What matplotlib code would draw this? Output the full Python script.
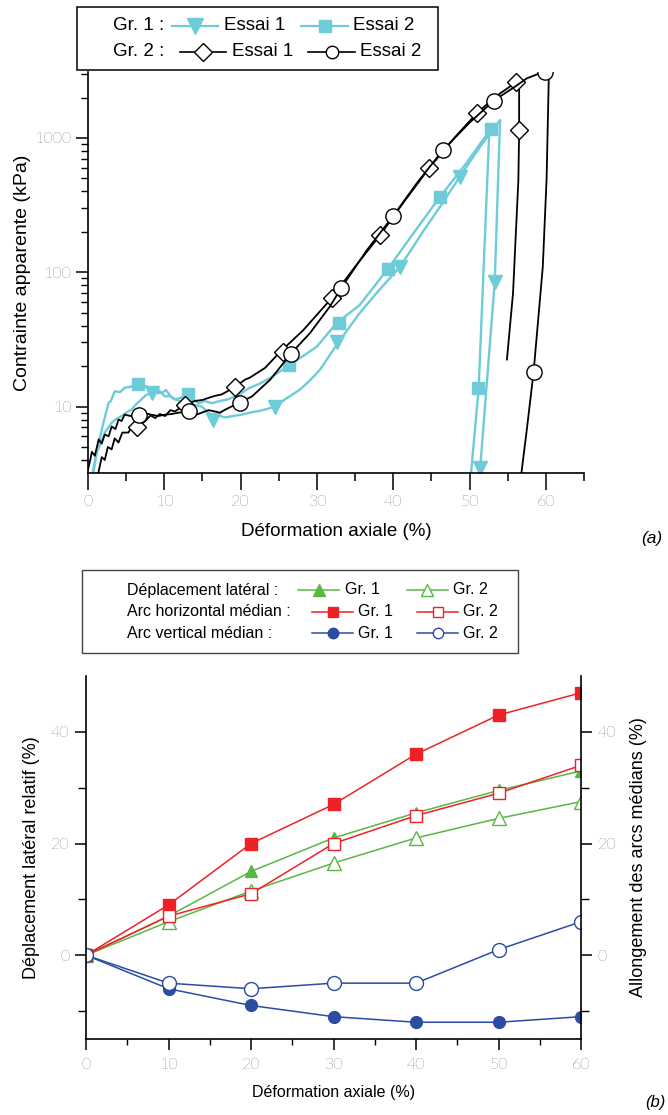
import matplotlib
matplotlib.use('Agg')
import matplotlib.pyplot as plt
from matplotlib.lines import Line2D
from matplotlib.patches import Rectangle
from matplotlib.ticker import FixedLocator, NullFormatter, FixedFormatter

W, H = 668, 1115
cyan = '#6ECBD8'
green = '#5BB645'
red = '#EE2226'
blue = '#2A4CA2'

# ---- (a) contrainte vs deformation ----
# Gr. 1, Essai 1 (triangles)
g1e1_x = [0.6, 1.1, 1.6, 2.2, 2.6, 3.1, 3.6, 4.4, 5.0, 5.7, 6.3, 7.0, 7.6, 8.5, 9.7, 10.2, 11.0, 12.0, 12.7,
          14.0, 14.9, 15.8, 16.4, 17.0, 18.0, 19.0, 20.1, 21.2, 22.5, 23.2, 24.5, 26.0, 27.8, 29.0, 30.4,
          32.6, 35.6, 38.0, 40.9, 44.0, 46.5, 48.7, 51.5, 54.0, 53.3, 51.4, 51.3]
g1e1_y = [3.2, 4.5, 5.2, 6.4, 6.9, 7.6, 8.0, 8.5, 9.0, 9.5, 10.4, 11.3, 12.2, 12.7, 12.6, 13.3, 11.6, 11.0, 10.6,
          10.3, 10.0, 9.0, 8.0, 8.6, 8.3, 8.5, 8.7, 9.0, 9.3, 9.5, 10.0, 11.5, 13.4, 15.5, 18.8,
          28.9, 49.7, 72, 110, 205, 330, 513, 880, 1360, 85, 3.5, 3.0]
g1e1_mx = [8.4, 16.4, 24.5, 32.6, 40.9, 48.7, 53.3, 51.4]
g1e1_my = [12.7, 8.0, 10.0, 30.0, 110, 513, 85, 3.5]

# Gr. 1, Essai 2 (carres)
g1e2_x = [0.7, 1.1, 1.6, 2.0, 2.7, 3.0, 3.5, 4.2, 4.8, 5.5, 6.4, 7.0, 7.7, 8.2, 8.8, 9.3, 10.1, 10.8, 11.4,
          12.2, 12.9, 13.6, 14.5, 15.3, 16.2, 17.3, 18.3, 19.5, 21.2, 22.5, 24.0, 26.5, 28.3, 30.0,
          32.6, 35.6, 39.3, 42.5, 46.1, 49.5, 52.8, 52.6, 51.2, 50.2]
g1e2_y = [3.2, 4.4, 6.0, 7.5, 10.7, 11.0, 13.0, 12.8, 13.8, 14.0, 14.6, 14.0, 14.2, 13.0, 12.7, 13.2, 11.9, 12.0, 11.3,
          11.6, 12.5, 11.5, 10.6, 11.0, 10.6, 11.0, 11.3, 12.0, 13.8, 14.8, 16.5, 20.5, 24.0, 28.0,
          42, 57, 106, 190, 363, 640, 1170, 1170, 13.8, 3.2]
g1e2_mx = [6.6, 13.1, 26.4, 32.9, 39.3, 46.1, 52.8, 51.1]
g1e2_my = [14.6, 12.3, 20.5, 42, 106, 363, 1170, 13.8]

# Gr. 2, Essai 1 (losanges)
g2e1_x = [1.35, 1.8, 2.2, 2.6, 3.1, 3.5, 4.0, 4.5, 5.3, 5.8, 6.4, 7.0, 7.5, 8.2, 8.8, 9.4, 10.1, 10.8, 11.4,
          12.7, 14.0, 15.0, 15.8, 16.6, 17.5, 19.2, 20.6, 21.2, 23.2, 25.2, 28.2, 31.7, 35.0, 38.3, 41.5,
          44.7, 48.0, 51.0, 53.5, 56.1, 56.5, 56.5, 56.4, 55.7, 54.9]
g2e1_y = [3.2, 4.2, 4.0, 5.0, 4.8, 5.8, 5.4, 6.4, 6.4, 7.2, 7.0, 7.4, 7.8, 8.6, 8.2, 8.8, 8.5, 9.4, 9.2,
          10.3, 11.0, 11.2, 11.6, 12.0, 12.3, 13.9, 15.9, 16.4, 19.4, 25.6, 37, 62, 110, 190, 340,
          597, 1000, 1540, 2050, 2600, 2300, 1140, 487, 70, 22.4]
g2e1_mx = [6.4, 12.7, 19.2, 25.5, 32.0, 38.3, 44.7, 51.0, 56.1, 56.5]
g2e1_my = [7.0, 10.3, 13.9, 25.6, 64.6, 190, 597, 1540, 2600, 1140]

# Gr. 2, Essai 2 (cercles)
g2e2_x = [0.0, 0.3, 0.5, 0.9, 1.4, 1.8, 2.2, 2.7, 3.1, 3.6, 4.0, 4.4, 4.8, 5.6, 6.7, 7.5, 8.3, 9.2, 10.1,
          11.0, 11.8, 13.3, 14.2, 14.9, 15.8, 16.6, 17.3, 18.0, 18.8, 19.9, 21.5, 23.9, 26.6, 29.1,
          31.7, 33.2, 36.5, 40.0, 43.2, 46.5, 50.0, 53.2, 56.0, 57.5, 59.0, 60.0, 60.4, 60.1, 59.6,
          59.3, 58.4, 57.5, 56.8]
g2e2_y = [3.4, 4.0, 4.6, 4.3, 5.7, 5.3, 6.2, 6.0, 7.1, 6.8, 8.0, 7.8, 8.7, 8.5, 8.6, 8.9, 8.7, 8.5, 8.7,
          8.8, 9.0, 9.2, 8.7, 9.0, 9.4, 9.2, 9.0, 9.5, 10.0, 10.7, 11.9, 15.9, 24.8, 35.3,
          55.6, 76.5, 145, 263, 470, 810, 1300, 1900, 2420, 2780, 3000, 3080, 3080, 500, 110,
          70, 18.2, 6.7, 3.2]
g2e2_mx = [6.7, 13.3, 19.9, 26.6, 33.2, 40.0, 46.5, 53.2, 59.9, 58.4]
g2e2_my = [8.6, 9.2, 10.7, 24.8, 76.5, 263, 810, 1900, 3100, 18.2]

# ---- (b) deplacements / allongements ----
def_axiale = [0, 10, 20, 30, 40, 50, 60]
lat_gr1 = [0, 7, 15, 21, 25.5, 29.5, 33]
lat_gr2 = [0, 6, 11.5, 16.5, 21, 24.5, 27.5]
horiz_gr1 = [0, 9, 20, 27, 36, 43, 47]
horiz_gr2 = [0, 7, 11, 20, 25, 29, 34]
vert_gr1 = [0, -6, -9, -11, -12, -12, -11]
vert_gr2 = [0, -5, -6, -5, -5, 1, 6]

plt.rcParams['font.family'] = ['Liberation Sans', 'DejaVu Sans']
tickfont = {'family': ['Lato', 'DejaVu Sans'], 'weight': 'light', 'size': 11.5}

fig = plt.figure(figsize=(W / 100, H / 100), dpi=100)


def fx(px):
    return px / W


def fy(py):
    return 1 - py / H


# axes (a)
ax1 = fig.add_axes([fx(88), fy(473), fx(584) - fx(88), fy(72) - fy(473)])
ax1.set_yscale('log')
ax1.plot(g1e1_x, g1e1_y, color=cyan, lw=1.7)
ax1.plot(g1e1_mx, g1e1_my, 'v', color=cyan, ms=10.5, mec=cyan)
ax1.plot(g1e2_x, g1e2_y, color=cyan, lw=1.7)
ax1.plot(g1e2_mx, g1e2_my, 's', color=cyan, ms=8.5, mec=cyan)
ax1.plot(g2e1_x, g2e1_y, color='black', lw=1.3)
ax1.plot(g2e1_mx, g2e1_my, 'D', color='black', mfc='white', ms=9.5, mew=1)
ax1.plot(g2e2_x, g2e2_y, color='black', lw=1.3)
ax1.plot(g2e2_mx, g2e2_my, 'o', color='black', mfc='white', ms=11, mew=1)
ax1.set_xlim(0, 65)
ax1.set_ylim(3.2, 3100)
ax1.spines['top'].set_visible(False)
ax1.spines['right'].set_visible(False)
ax1.spines['left'].set_linewidth(1.2)
ax1.spines['bottom'].set_linewidth(1.2)
ax1.xaxis.set_major_locator(FixedLocator([0, 10, 20, 30, 40, 50, 60]))
ax1.xaxis.set_minor_locator(FixedLocator([5, 15, 25, 35, 45, 55, 65]))
ax1.yaxis.set_major_locator(FixedLocator([10, 100, 1000]))
ax1.yaxis.set_major_formatter(FixedFormatter(['10', '100', '1000']))
ax1.yaxis.set_minor_locator(FixedLocator([4, 5, 6, 7, 8, 9, 20, 30, 40, 50, 60, 70, 80, 90,
                                          200, 300, 400, 500, 600, 700, 800, 900, 2000, 3000]))
ax1.yaxis.set_minor_formatter(NullFormatter())
ax1.tick_params(axis='x', which='major', direction='out', length=12, width=1.1, pad=4)
ax1.tick_params(axis='x', which='minor', direction='out', length=6, width=1.1)
ax1.tick_params(axis='y', which='major', direction='out', length=9, width=1.1, pad=3)
ax1.tick_params(axis='y', which='minor', direction='out', length=5, width=1.0)
for lab in ax1.get_xticklabels() + ax1.get_yticklabels():
    lab.set_fontproperties(tickfont)
    lab.set_color('#111111')
ax1.set_ylabel('Contrainte apparente (kPa)', fontsize=14, labelpad=2)
fig.text(fx(336), fy(532), 'Déformation axiale (%)', fontsize=13.5, ha='center', va='center')
fig.text(fx(652), fy(538), '(a)', fontsize=12.5, style='italic', ha='center', va='center')

# legend (a)
fig.patches.append(Rectangle((fx(77), fy(70)), fx(438) - fx(77), fy(7) - fy(70),
                             transform=fig.transFigure, fill=True, fc='white', ec='black', lw=1.1))
leg_a = [
    (26, 'Gr. 1 :', 113, [(172, 218, 'v', cyan, cyan, 11, 1.6, 224, 'Essai 1'),
                          (301, 348, 's', cyan, cyan, 8.5, 1.6, 353, 'Essai 2')]),
    (52, 'Gr. 2 :', 113, [(180, 226, 'D', 'white', 'black', 9, 1.2, 232, 'Essai 1'),
                          (308, 355, 'o', 'white', 'black', 9, 1.2, 360, 'Essai 2')]),
]
for py, head, hx, items in leg_a:
    fig.text(fx(hx), fy(py), head, fontsize=13.5, ha='left', va='center')
    for x0, x1, mk, mfc, col, ms, lw, tx, lab in items:
        fig.lines.append(Line2D([fx(x0), fx(x1)], [fy(py), fy(py)], transform=fig.transFigure,
                                color=col, lw=lw))
        fig.lines.append(Line2D([fx((x0 + x1) / 2)], [fy(py)], transform=fig.transFigure,
                                marker=mk, color=col, mfc=mfc, mec=col, ms=ms, lw=0))
        fig.text(fx(tx), fy(py), lab, fontsize=13.5, ha='left', va='center')

# axes (b)
ax2 = fig.add_axes([fx(86), fy(1039), fx(581) - fx(86), fy(676) - fy(1039)])
ax2.plot(def_axiale, lat_gr1, '-^', color=green, lw=1.1, ms=9)
ax2.plot(def_axiale, lat_gr2, '-^', color=green, mfc='white', lw=1.1, ms=10, mew=1)
ax2.plot(def_axiale, horiz_gr1, '-s', color=red, lw=1.1, ms=8)
ax2.plot(def_axiale, horiz_gr2, '-s', color=red, mfc='white', lw=1.1, ms=8.5, mew=1)
ax2.plot(def_axiale, vert_gr1, '-o', color=blue, lw=1.1, ms=8.5)
ax2.plot(def_axiale, vert_gr2, '-o', color=blue, mfc='white', lw=1.1, ms=10, mew=1)
ax2.set_xlim(0, 60)
ax2.set_ylim(-15, 50)
ax2.spines['top'].set_visible(False)
ax2.spines['right'].set_visible(False)
for s in ('left', 'bottom'):
    ax2.spines[s].set_linewidth(1.2)
ax2.xaxis.set_major_locator(FixedLocator([0, 10, 20, 30, 40, 50, 60]))
ax2.xaxis.set_minor_locator(FixedLocator([5, 15, 25, 35, 45, 55]))
ax2.yaxis.set_major_locator(FixedLocator([0, 20, 40]))
ax2.yaxis.set_minor_locator(FixedLocator([-10, 10, 30]))
ax2.tick_params(axis='x', which='major', direction='out', length=8, width=1.1, pad=6)
ax2.tick_params(axis='x', which='minor', direction='out', length=4, width=1.0)
ax2.tick_params(axis='y', which='major', direction='out', length=8, width=1.1, pad=4)
ax2.tick_params(axis='y', which='minor', direction='out', length=6, width=1.0)
for lab in ax2.get_xticklabels() + ax2.get_yticklabels():
    lab.set_fontproperties(tickfont)
    lab.set_color('#111111')
ax2.set_ylabel('Déplacement latéral relatif (%)', fontsize=13, labelpad=8)

ax3 = ax2.twinx()
ax3.set_ylim(-15, 50)
for s in ('top', 'left', 'bottom'):
    ax3.spines[s].set_visible(False)
ax3.spines['right'].set_linewidth(1.2)
ax3.yaxis.set_major_locator(FixedLocator([0, 20, 40]))
ax3.yaxis.set_minor_locator(FixedLocator([-10, 10, 30]))
ax3.tick_params(axis='y', which='major', direction='out', length=8, width=1.1, pad=4)
ax3.tick_params(axis='y', which='minor', direction='out', length=6, width=1.0)
for lab in ax3.get_yticklabels():
    lab.set_fontproperties(tickfont)
    lab.set_color('#111111')
ax3.set_ylabel('Allongement des arcs médians (%)', fontsize=13, labelpad=10)

fig.text(fx(334), fy(1092), 'Déformation axiale (%)', fontsize=11.5, ha='center', va='center')
fig.text(fx(655), fy(1103), '(b)', fontsize=12, style='italic', ha='center', va='center')

# legend (b)
fig.patches.append(Rectangle((fx(82), fy(653)), fx(518) - fx(82), fy(570) - fy(653),
                             transform=fig.transFigure, fill=True, fc='white', ec='#444444', lw=1.0))
leg_b = [
    (590, 'Déplacement latéral :', green, '^', [(298, 339, green, 9, 345), (407, 448, 'white', 9, 453)]),
    (612, 'Arc horizontal médian :', red, 's', [(312, 353, red, 7, 358), (417, 458, 'white', 7, 463)]),
    (633, 'Arc vertical médian :', blue, 'o', [(312, 353, blue, 7.5, 358), (417, 458, 'white', 7.5, 463)]),
]
for py, head, col, mk, items in leg_b:
    fig.text(fx(127), fy(py), head, fontsize=11.5, ha='left', va='center')
    for i, (x0, x1, mfc, ms, tx) in enumerate(items):
        fig.lines.append(Line2D([fx(x0), fx(x1)], [fy(py), fy(py)], transform=fig.transFigure,
                                color=col, lw=1.1))
        fig.lines.append(Line2D([fx((x0 + x1) / 2)], [fy(py)], transform=fig.transFigure,
                                marker=mk, color=col, mfc=mfc, mec=col, ms=ms, lw=0, mew=1))
        fig.text(fx(tx), fy(py), 'Gr. %d' % (i + 1), fontsize=11.5, ha='left', va='center')

fig.savefig('out.png', dpi=100)
